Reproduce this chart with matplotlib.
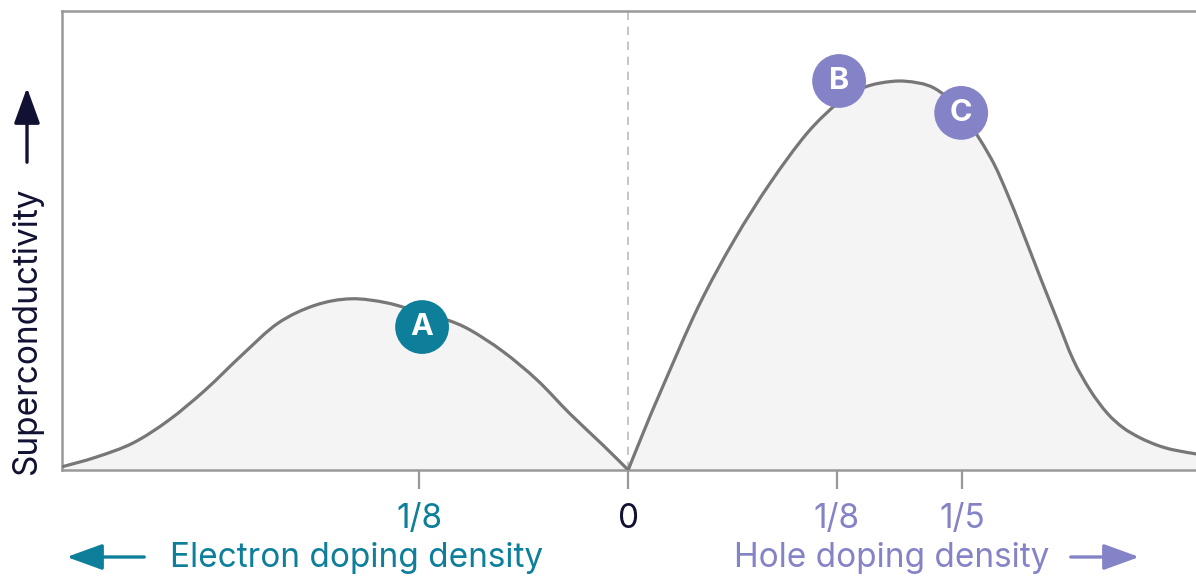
import numpy as np
import matplotlib
matplotlib.use("Agg")
import matplotlib.pyplot as plt
from matplotlib.path import Path
from matplotlib.patches import PathPatch, FancyArrowPatch

plt.rcParams['font.family'] = ['Inter', 'DejaVu Sans']

# electron side (negative x = electron doping), superconductivity in arbitrary units
electron_x = [-0.339, -0.3186, -0.2964, -0.2749, -0.2533, -0.2311, -0.2096, -0.1874,
              -0.1659, -0.1443, -0.1234, -0.1084, -0.0946, -0.0749, -0.0545, -0.0347,
              -0.0150, 0.0]
electron_y = [0.007, 0.028, 0.059, 0.109, 0.174, 0.251, 0.320, 0.359,
              0.373, 0.364, 0.342, 0.327, 0.305, 0.258, 0.196, 0.122,
              0.054, 0.0]

# hole side
hole_x = [0.0, 0.009, 0.0198, 0.0419, 0.0635, 0.0850, 0.1072, 0.1263, 0.1390, 0.1509,
          0.1659, 0.1832, 0.1994, 0.2168, 0.2269, 0.2365, 0.2467, 0.2569, 0.2665,
          0.2766, 0.2868, 0.2964, 0.3066, 0.3168, 0.3263, 0.3401]
hole_y = [0.0, 0.081, 0.174, 0.355, 0.501, 0.625, 0.734, 0.802, 0.830, 0.843,
          0.847, 0.832, 0.780, 0.682, 0.603, 0.516, 0.420, 0.327, 0.240,
          0.174, 0.124, 0.092, 0.070, 0.054, 0.044, 0.035]

# labelled points
point_labels = ['A', 'B', 'C']
point_x = [-0.1234, 0.1263, 0.1994]
point_y = [0.3115, 0.8475, 0.778]

tick_pos = [-1/8, 0, 1/8, 1/5]
tick_labels = ['1/8', '0', '1/8', '1/5']

teal = '#0d7f9b'
purple = '#8583c7'
navy = '#111133'
tick_colors = [teal, navy, purple, purple]
point_colors = [teal, purple, purple]


def smooth_path(xs, ys, close_to_base=False):
    # Catmull-Rom through the read points, drawn as cubic bezier segments
    pts = np.column_stack([xs, ys])
    verts = [pts[0]]
    codes = [Path.MOVETO]
    n = len(pts)
    for i in range(n - 1):
        p0 = pts[i - 1] if i > 0 else pts[i]
        p1 = pts[i]
        p2 = pts[i + 1]
        p3 = pts[i + 2] if i + 2 < n else pts[i + 1]
        verts += [p1 + (p2 - p0) / 6, p2 - (p3 - p1) / 6, p2]
        codes += [Path.CURVE4] * 3
    if close_to_base:
        verts += [(xs[-1], 0), (xs[0], 0), (xs[0], 0)]
        codes += [Path.LINETO, Path.LINETO, Path.CLOSEPOLY]
    return Path(verts, codes)


fig = plt.figure(figsize=(11.96, 5.78), dpi=100)
ax = fig.add_axes([62/1196, 108/578, 1 - 62/1196, 459/578])

for xs, ys in [(electron_x, electron_y), (hole_x, hole_y)]:
    ax.add_patch(PathPatch(smooth_path(xs, ys, True), facecolor='#f4f4f4',
                           edgecolor='none', zorder=1))
    ax.add_patch(PathPatch(smooth_path(xs, ys), facecolor='none',
                           edgecolor='#777777', lw=2.3, zorder=3))
ax.axvline(0, color='#bbbbbb', lw=1.2, ls=(0, (5, 4)), zorder=2)

ax.scatter(point_x, point_y, s=1500, c=point_colors, zorder=5, linewidths=0)
for lab, px, py in zip(point_labels, point_x, point_y):
    ax.text(px, py, lab, color='white', fontsize=22, fontweight='bold',
            ha='center', va='center', zorder=6)

ax.set_xlim(-0.339, 0.340)
ax.set_ylim(0, 1)
ax.set_yticks([])
ax.set_xticks(tick_pos)
ax.set_xticklabels(tick_labels, fontsize=24)
for lbl, col in zip(ax.get_xticklabels(), tick_colors):
    lbl.set_color(col)
ax.tick_params(axis='x', length=14, width=1.6, color='#999999', pad=10)

for side in ['left', 'top', 'bottom']:
    ax.spines[side].set_color('#999999')
    ax.spines[side].set_linewidth(1.8)
ax.spines['right'].set_visible(False)

# y axis label with arrow
fig.text(27/1196, 1 - 330/578, 'Superconductivity', rotation=90, fontsize=24,
         color=navy, ha='center', va='center')
fig.add_artist(FancyArrowPatch(
    (27/1196, 1 - 165/578), (27/1196, 1 - 85/578), transform=fig.transFigure,
    arrowstyle='-|>,head_length=1.1,head_width=0.4', mutation_scale=20,
    color=navy, lw=2.4))

# bottom axis labels with arrows
fig.text(357/1196, 1 - 558/578, 'Electron doping density', fontsize=24,
         color=teal, ha='center', va='center')
fig.add_artist(FancyArrowPatch(
    (147/1196, 1 - 557/578), (64/1196, 1 - 557/578), transform=fig.transFigure,
    arrowstyle='-|>,head_length=1.1,head_width=0.4', mutation_scale=20,
    color=teal, lw=2.4))

fig.text(892/1196, 1 - 558/578, 'Hole doping density', fontsize=24,
         color=purple, ha='center', va='center')
fig.add_artist(FancyArrowPatch(
    (1068/1196, 1 - 557/578), (1142/1196, 1 - 557/578), transform=fig.transFigure,
    arrowstyle='-|>,head_length=1.1,head_width=0.4', mutation_scale=20,
    color=purple, lw=2.4))

fig.savefig('out.png', dpi=100)
